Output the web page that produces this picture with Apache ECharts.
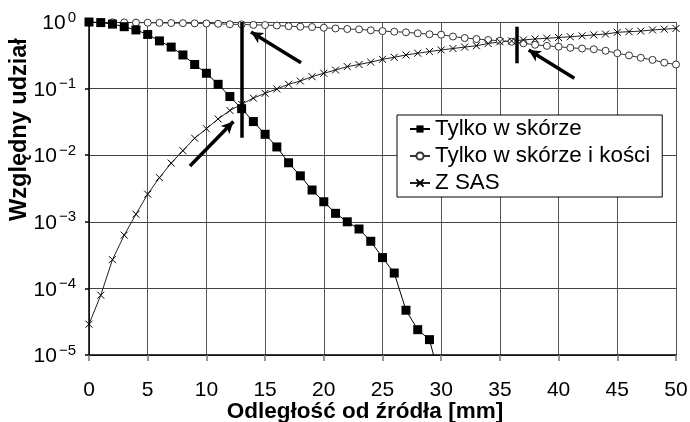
<!DOCTYPE html>
<html><head><meta charset="utf-8">
<script src="https://cdn.jsdelivr.net/npm/echarts@6/dist/echarts.min.js"></script>
<style>html,body{margin:0;padding:0;background:#fff}#c{width:690px;height:422px}</style>
</head><body><div id="c"></div>
<script>
// ---- data ----
const distances = [0,1,2,3,4,5,6,7,8,9,10,11,12,13,14,15,16,17,18,19,20,21,22,23,24,25,26,27,28,29,30,31,32,33,34,35,36,37,38,39,40,41,42,43,44,45,46,47,48,49,50];
const seriesNames = ['Tylko w skórze', 'Tylko w skórze i kości', 'Z SAS'];
const skinOnly = [1.0,0.98,0.93,0.85,0.76,0.65,0.52,0.42,0.32,0.23,0.17,0.116,0.076,0.05,0.032,0.0206,0.0133,0.0077,0.0049,0.0030,0.0020,0.00134,0.0010,0.00078,0.00051,0.00029,0.00017,0.000047,0.000024,0.000017,0.0000037];
const skinBone = [1.0,0.99,0.99,0.985,0.98,0.976,0.97,0.965,0.96,0.955,0.95,0.94,0.925,0.92,0.905,0.9,0.885,0.865,0.85,0.84,0.82,0.8,0.785,0.775,0.75,0.73,0.716,0.7,0.676,0.655,0.645,0.605,0.575,0.555,0.537,0.524,0.506,0.48,0.455,0.438,0.426,0.41,0.4,0.39,0.37,0.34,0.315,0.29,0.27,0.245,0.23];
const withSAS = [0.000029,0.000079,0.00027,0.00063,0.0013,0.0026,0.0046,0.0076,0.0117,0.018,0.025,0.035,0.047,0.058,0.072,0.085,0.0986,0.116,0.13,0.151,0.17,0.19,0.214,0.23,0.25,0.275,0.295,0.32,0.34,0.36,0.38,0.4,0.42,0.44,0.475,0.505,0.52,0.537,0.556,0.57,0.585,0.6,0.62,0.64,0.66,0.7,0.716,0.73,0.76,0.78,0.8];
const xTickValues = [0,5,10,15,20,25,30,35,40,45,50];
const yTickExponents = [0,-1,-2,-3,-4,-5];
// annotations (data space): vertical bars [x, yTop, yBottom], arrows [xFrom, yFrom, xTo, yTo]
const verticalBars = [[13, 1, 0.0183], [36.4, 0.85, 0.24]];
const arrows = [[18.06, 0.245, 13.8, 0.71], [8.6, 0.0069, 12.3, 0.032], [41.34, 0.143, 37.45, 0.38]];

const FONT = "'Liberation Sans', Arial, sans-serif";
const pairs = arr => arr.map((v, i) => [distances[i], v]);
const crossPath = 'path://M0,0L10,10M10,0L0,10';

const annotationData = [];
verticalBars.forEach(b => annotationData.push([{coord: [b[0], b[1]], symbol: 'none'}, {coord: [b[0], b[2]], symbol: 'none'}]));
arrows.forEach(a => annotationData.push([{coord: [a[0], a[1]], symbol: 'none'}, {coord: [a[2], a[3]], symbol: 'arrow', symbolSize: [9, 12]}]));

const chart = echarts.init(document.getElementById('c'), null, {renderer: 'canvas'});
chart.setOption({
  animation: false,
  backgroundColor: '#fff',
  textStyle: {fontFamily: FONT, color: '#000'},
  grid: {left: 89, right: 14, top: 22, bottom: 67, containLabel: false, outerBoundsMode: 'none'},
  legend: {
    orient: 'vertical', left: 397, top: 115,
    padding: [2, 12, 2, 12], itemGap: 3,
    itemWidth: 20, itemHeight: 9,
    backgroundColor: '#fff', borderColor: '#000', borderWidth: 1, borderRadius: 0,
    textStyle: {fontSize: 22.4, fontFamily: FONT, color: '#000', lineHeight: 24},
    data: seriesNames
  },
  xAxis: {
    type: 'value', min: 0, max: 50, interval: 5,
    name: 'Odległość od źródła [mm]', nameLocation: 'middle', nameGap: 45, nameMoveOverlap: false,
    nameTextStyle: {fontSize: 22.5, fontWeight: 'bold', fontFamily: FONT, color: '#000', padding: [0, 35, 0, 0]},
    axisLine: {show: true, onZero: false, lineStyle: {color: '#000', width: 1.5}},
    axisTick: {show: true, inside: false, length: 6, lineStyle: {color: '#777', width: 1.5}},
    axisLabel: {fontSize: 21, fontFamily: FONT, color: '#000', margin: 25,
      formatter: v => xTickValues.includes(v) ? String(v) : ''},
    splitLine: {show: true, lineStyle: {color: '#555', width: 1}}
  },
  yAxis: {
    type: 'log', logBase: 10, min: Math.pow(10, yTickExponents[yTickExponents.length - 1]), max: Math.pow(10, yTickExponents[0]),
    interval: 1,
    name: 'Względny udział', nameLocation: 'middle', nameGap: 57, nameMoveOverlap: false,
    nameTextStyle: {fontSize: 23.5, fontWeight: 'bold', fontFamily: FONT, color: '#000', padding: [0, 0, 0, 118]},
    axisLine: {show: true, onZero: false, lineStyle: {color: '#000', width: 1.5}},
    axisTick: {show: true, inside: false, length: 4, lineStyle: {color: '#000', width: 1.5}},
    axisLabel: {
      margin: 13, color: '#000',
      formatter: v => {
        const e = Math.round(Math.log10(v));
        return '{b|10}{s|' + (e < 0 ? '\u2212' + (-e) : String(e)) + '}';
      },
      rich: {
        b: {fontSize: 21, fontFamily: FONT, color: '#000', lineHeight: 24, verticalAlign: 'bottom'},
        s: {fontSize: 15, fontFamily: FONT, color: '#000', lineHeight: 15, verticalAlign: 'top', padding: [0, 0, 0, 2]}
      }
    },
    splitLine: {show: true, lineStyle: {color: '#444', width: 1}}
  },
  series: [
    {
      name: seriesNames[0], type: 'line', data: pairs(skinOnly),
      symbol: 'rect', symbolSize: 9, showAllSymbol: true, clip: true,
      lineStyle: {color: '#000', width: 1},
      itemStyle: {color: '#000', borderWidth: 0},
      z: 4
    },
    {
      name: seriesNames[1], type: 'line', data: pairs(skinBone),
      symbol: 'circle', symbolSize: 7, showAllSymbol: true, clip: true,
      lineStyle: {color: '#333', width: 1},
      itemStyle: {color: '#fff', borderColor: '#333', borderWidth: 1},
      z: 3
    },
    {
      name: seriesNames[2], type: 'line', data: pairs(withSAS),
      symbol: crossPath, symbolSize: 7, showAllSymbol: true, clip: true,
      lineStyle: {color: '#222', width: 1},
      itemStyle: {color: 'rgba(0,0,0,0)', borderColor: '#000', borderWidth: 1},
      z: 3,
      markLine: {
        silent: true, animation: false,
        label: {show: false},
        lineStyle: {color: '#000', width: 3.5, type: 'solid'},
        symbol: ['none', 'none'],
        data: annotationData
      }
    }
  ]
});
</script>
</body></html>
